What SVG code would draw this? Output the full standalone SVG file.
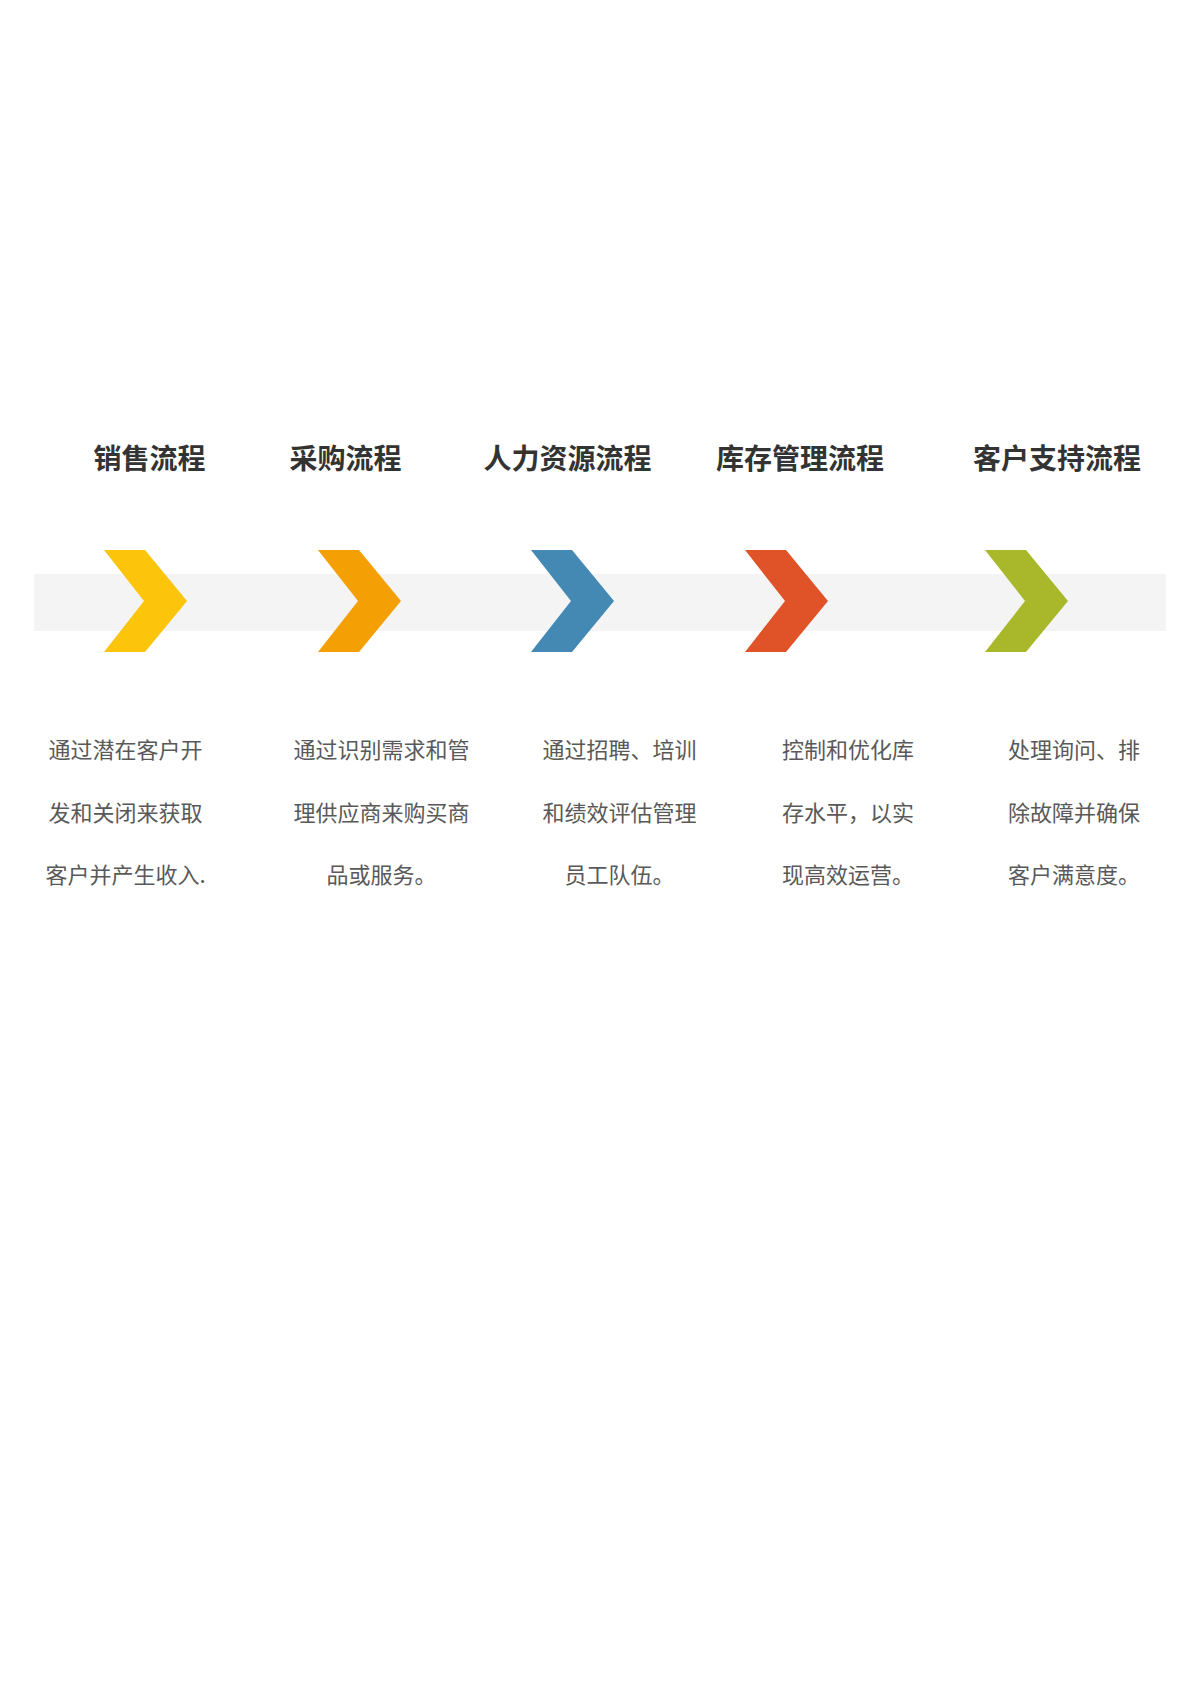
<svg xmlns="http://www.w3.org/2000/svg" width="1191" height="1684" viewBox="0 0 1191 1684">
<style>
.hd{font-family:"Noto Sans CJK SC","Noto Sans",sans-serif;font-weight:700;font-size:28px;fill:#333333;text-anchor:middle}
.bd{font-family:"Noto Sans CJK SC","Noto Sans",sans-serif;font-size:22px;fill:#595959;text-anchor:middle}
</style>
<defs>
<path id="chev" d="M0,0 L41,0 L83,51 L41,102 L0,102 L40,51 Z"/>
</defs>
<rect width="1191" height="1684" fill="#ffffff"/>
<g id="connectors">
<rect x="34" y="574" width="1132" height="57" fill="#f4f4f4"/>
</g>
<g id="sales">
<text class="hd" x="149.5" y="468.5">销售流程</text>
<use href="#chev" x="104" y="550" fill="#fcc40a"/>
<text class="bd" x="125.5" y="757.5">通过潜在客户开</text>
<text class="bd" x="125.5" y="820.5">发和关闭来获取</text>
<text class="bd" x="125.5" y="882.5">客户并产生收入.</text>
</g>
<g id="purchase">
<text class="hd" x="345.5" y="468.5">采购流程</text>
<use href="#chev" x="318" y="550" fill="#f4a004"/>
<text class="bd" x="381.5" y="757.5">通过识别需求和管</text>
<text class="bd" x="381.5" y="820.5">理供应商来购买商</text>
<text class="bd" x="381.5" y="882.5">品或服务。</text>
</g>
<g id="hr">
<text class="hd" x="567.5" y="468.5">人力资源流程</text>
<use href="#chev" x="531" y="550" fill="#4389b4"/>
<text class="bd" x="619.5" y="757.5">通过招聘、培训</text>
<text class="bd" x="619.5" y="820.5">和绩效评估管理</text>
<text class="bd" x="619.5" y="882.5">员工队伍。</text>
</g>
<g id="inventory">
<text class="hd" x="800" y="468.5">库存管理流程</text>
<use href="#chev" x="745" y="550" fill="#e05328"/>
<text class="bd" x="848" y="757.5">控制和优化库</text>
<text class="bd" x="848" y="820.5">存水平，以实</text>
<text class="bd" x="848" y="882.5">现高效运营。</text>
</g>
<g id="support">
<text class="hd" x="1057" y="468.5">客户支持流程</text>
<use href="#chev" x="985" y="550" fill="#a8b82a"/>
<text class="bd" x="1074" y="757.5">处理询问、排</text>
<text class="bd" x="1074" y="820.5">除故障并确保</text>
<text class="bd" x="1074" y="882.5">客户满意度。</text>
</g>
</svg>
